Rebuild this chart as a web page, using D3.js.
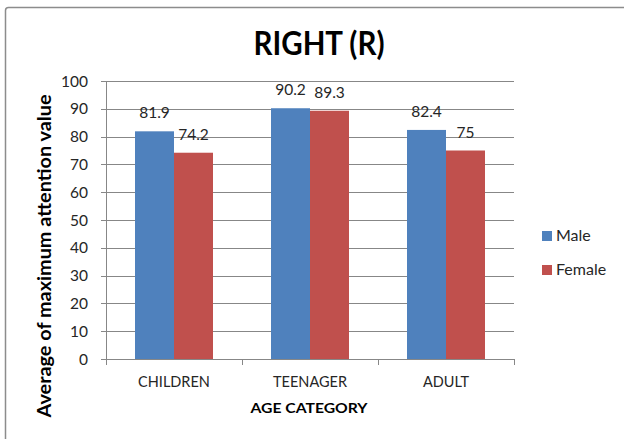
<!DOCTYPE html>
<html><head><meta charset="utf-8">
<script src="https://cdn.jsdelivr.net/npm/d3@7"></script>
<style>
html,body{margin:0;padding:0;background:#fff;}
svg{display:block;font-family:Lato, "Open Sans", sans-serif;}
</style></head>
<body>
<svg id="c" width="624" height="439"></svg>
<script>
const categories = ["CHILDREN", "TEENAGER", "ADULT"];
const seriesNames = ["Male", "Female"];
const maleValues = [81.9, 90.2, 82.4];
const femaleValues = [74.2, 89.3, 75];
const yTicks = [0, 10, 20, 30, 40, 50, 60, 70, 80, 90, 100];
const colors = ["#4F81BD", "#C0504D"];

(function () {
const svg = d3.select("#c");
const pLeft = 106, pRight = 514, pTop = 81, pBottom = 359;
const text = "#262626", gridC = "#878787";

// outer border
svg.append("rect").attr("x", 5.5).attr("y", 7.5).attr("width", 640).attr("height", 460)
  .attr("rx", 3).attr("fill", "none").attr("stroke", "#8c8c8c").attr("stroke-width", 1.5);

const x0 = d3.scaleBand().domain(categories).range([pLeft, pRight]).padding(0);
const x1 = d3.scaleBand().domain(seriesNames).range([0, x0.bandwidth()]).paddingInner(0).paddingOuter(0.744);
const y = d3.scaleLinear().domain([0, 100]).range([pBottom, pTop]);

// gridlines
svg.append("g").selectAll("line").data(yTicks).join("line")
  .attr("x1", pLeft - 5).attr("x2", pRight)
  .attr("y1", d => Math.round(y(d)) + 0.5).attr("y2", d => Math.round(y(d)) + 0.5)
  .attr("stroke", gridC).attr("stroke-width", 1);

// y tick labels
svg.append("g").selectAll("text").data(yTicks).join("text")
  .attr("x", 88).attr("y", d => y(d)).attr("dy", "0.36em")
  .attr("text-anchor", "end").attr("font-size", 15.5).attr("fill", text)
  .text(d => d);

// y axis line
svg.append("line").attr("x1", pLeft + 0.5).attr("x2", pLeft + 0.5).attr("y1", pTop).attr("y2", pBottom)
  .attr("stroke", gridC);

// bars
const data = categories.map((c, i) => ({cat: c, vals: [maleValues[i], femaleValues[i]]}));
const g = svg.append("g").selectAll("g").data(data).join("g")
  .attr("transform", d => `translate(${x0(d.cat)},0)`);
g.selectAll("rect").data(d => d.vals.map((v, j) => ({v, s: seriesNames[j], j}))).join("rect")
  .attr("x", d => x1(d.s)).attr("width", x1.bandwidth())
  .attr("y", d => y(d.v)).attr("height", d => y(0) - y(d.v))
  .attr("fill", d => colors[d.j]);
g.selectAll("text").data(d => d.vals.map((v, j) => ({v, s: seriesNames[j], j}))).join("text")
  .attr("x", d => x1(d.s) + x1.bandwidth() / 2).attr("y", d => y(d.v) - 13)
  .attr("text-anchor", "middle").attr("font-size", 15.5).attr("fill", text)
  .text(d => d.v);

// x axis line and ticks
svg.append("line").attr("x1", pLeft).attr("x2", pRight).attr("y1", pBottom + 0.5).attr("y2", pBottom + 0.5)
  .attr("stroke", gridC);
const bounds = categories.map(c => x0(c)).concat([pRight]);
svg.append("g").selectAll("line").data(bounds).join("line")
  .attr("x1", d => Math.round(d) + 0.5).attr("x2", d => Math.round(d) + 0.5)
  .attr("y1", pBottom).attr("y2", pBottom + 6).attr("stroke", gridC);

// category labels
svg.append("g").selectAll("text").data(categories).join("text")
  .attr("x", d => x0(d) + x0.bandwidth() / 2).attr("y", 387)
  .attr("text-anchor", "middle").attr("font-size", 14.5).attr("fill", text)
  .text(d => d);

// title
svg.append("text").attr("x", 319).attr("y", 55).attr("text-anchor", "middle")
  .attr("font-size", 32).attr("font-weight", "bold").attr("fill", "#000")
  .attr("textLength", 131).attr("lengthAdjust", "spacingAndGlyphs")
  .text("RIGHT (R)");

// x axis title
svg.append("text").attr("x", 309).attr("y", 413).attr("text-anchor", "middle")
  .attr("font-size", 13.5).attr("font-weight", "bold").attr("fill", "#000")
  .attr("textLength", 117).attr("lengthAdjust", "spacingAndGlyphs")
  .text("AGE CATEGORY");

// y axis title
svg.append("text").attr("transform", "translate(51,256) rotate(-90)")
  .attr("text-anchor", "middle").attr("font-size", 19.5).attr("font-weight", "bold").attr("fill", "#000")
  .attr("textLength", 323).attr("lengthAdjust", "spacingAndGlyphs")
  .text("Average of maximum attention value");

// legend
const leg = svg.append("g").selectAll("g").data(seriesNames).join("g")
  .attr("transform", (d, i) => `translate(542,${231 + i * 34})`);
leg.append("rect").attr("width", 10).attr("height", 10).attr("fill", (d, i) => colors[i]);
leg.append("text").attr("x", 14).attr("y", 10).attr("font-size", 16).attr("fill", text).text(d => d);
})();
</script>
</body></html>
